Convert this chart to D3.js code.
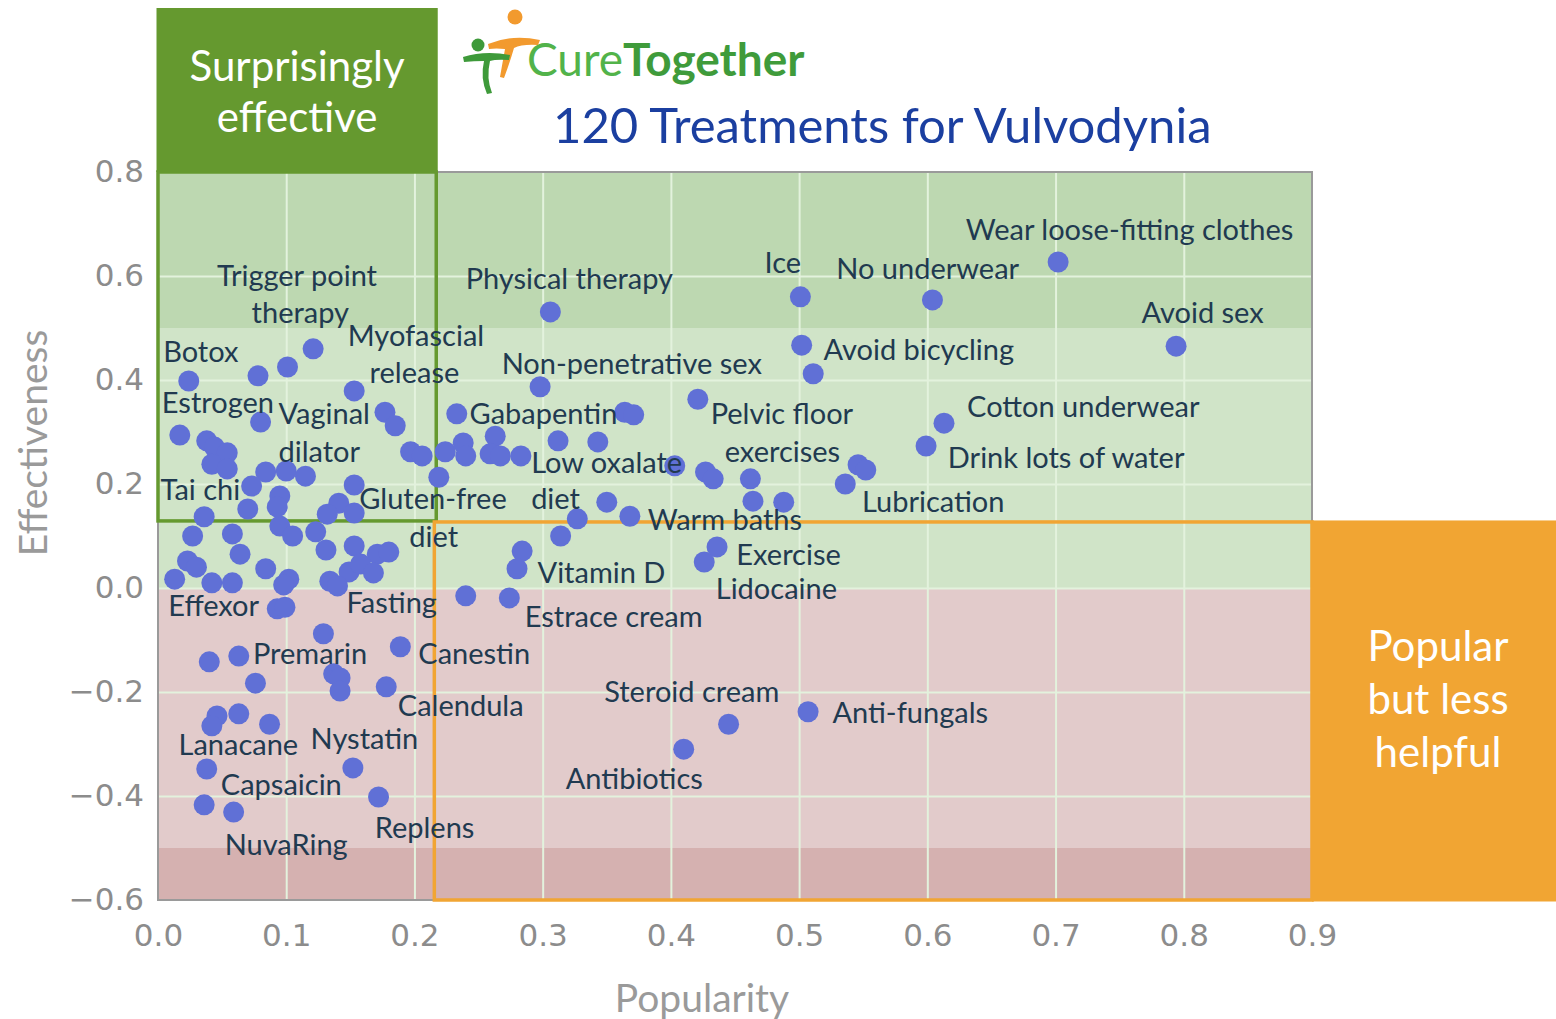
<!DOCTYPE html>
<html>
<head>
<meta charset="utf-8">
<script src="https://cdnjs.cloudflare.com/ajax/libs/d3/7.8.5/d3.min.js"></script>
<style>
  body { margin: 0; background: #fff; }
  svg { display: block; }
  text { font-family: Lato, 'Open Sans', sans-serif; }
  .tick text { font-family: 'DejaVu Sans', sans-serif; }
</style>
</head>
<body>
<div id="chart"></div>
<script>
var popularity = [
  0.702, 0.794, 0.604, 0.501, 0.502, 0.511, 0.306, 0.121, 0.024, 0.078,
  0.101, 0.153, 0.298, 0.421, 0.613, 0.599, 0.536, 0.546, 0.552, 0.233,
  0.364, 0.371, 0.080, 0.177, 0.185, 0.017, 0.038, 0.044, 0.054, 0.042,
  0.054, 0.197, 0.206, 0.224, 0.238, 0.240, 0.263, 0.259, 0.267, 0.283,
  0.312, 0.343, 0.084, 0.100, 0.115, 0.073, 0.153, 0.219, 0.403, 0.427,
  0.433, 0.462, 0.464, 0.488, 0.350, 0.327, 0.314, 0.368, 0.095, 0.093,
  0.141, 0.132, 0.153, 0.070, 0.036, 0.027, 0.058, 0.095, 0.105, 0.123,
  0.064, 0.131, 0.153, 0.171, 0.180, 0.023, 0.030, 0.084, 0.149, 0.158,
  0.168, 0.013, 0.042, 0.058, 0.102, 0.098, 0.134, 0.140, 0.284, 0.280,
  0.436, 0.426, 0.240, 0.274, 0.093, 0.099, 0.129, 0.189, 0.040, 0.063,
  0.076, 0.137, 0.142, 0.142, 0.178, 0.046, 0.042, 0.063, 0.087, 0.038,
  0.152, 0.172, 0.036, 0.059, 0.445, 0.507, 0.410
]

var effectiveness = [
  0.627, 0.465, 0.554, 0.560, 0.467, 0.412, 0.531, 0.460, 0.398, 0.408,
  0.425, 0.379, 0.387, 0.363, 0.317, 0.273, 0.200, 0.237, 0.227, 0.335,
  0.338, 0.333, 0.319, 0.338, 0.312, 0.294, 0.283, 0.271, 0.260, 0.238,
  0.229, 0.262, 0.254, 0.262, 0.279, 0.254, 0.292, 0.258, 0.254, 0.254,
  0.283, 0.281, 0.223, 0.225, 0.215, 0.196, 0.198, 0.213, 0.235, 0.223,
  0.210, 0.210, 0.167, 0.165, 0.165, 0.133, 0.100, 0.138, 0.177, 0.156,
  0.163, 0.142, 0.144, 0.152, 0.137, 0.100, 0.104, 0.119, 0.100, 0.108,
  0.065, 0.073, 0.081, 0.065, 0.069, 0.052, 0.040, 0.037, 0.031, 0.046,
  0.029, 0.017, 0.010, 0.010, 0.017, 0.006, 0.013, 0.004, 0.071, 0.037,
  0.079, 0.050, -0.015, -0.019, -0.040, -0.037, -0.088, -0.113, -0.142, -0.131,
  -0.183, -0.165, -0.173, -0.198, -0.190, -0.246, -0.265, -0.242, -0.262, -0.348,
  -0.346, -0.402, -0.417, -0.431, -0.262, -0.238, -0.310
]

var labelText = [
  'Wear loose-fitting clothes', 'Ice', 'No underwear', 'Avoid sex', 'Physical therapy',
  'Trigger point', 'therapy', 'Myofascial', 'release', 'Botox',
  'Non-penetrative sex', 'Avoid bicycling', 'Estrogen', 'Vaginal', 'dilator',
  'Gabapentin', 'Pelvic floor', 'exercises', 'Cotton underwear', 'Drink lots of water',
  'Low oxalate', 'diet', 'Tai chi', 'Gluten-free', 'diet',
  'Lubrication', 'Warm baths', 'Exercise', 'Vitamin D', 'Lidocaine',
  'Effexor', 'Fasting', 'Estrace cream', 'Premarin', 'Canestin',
  'Steroid cream', 'Calendula', 'Anti-fungals', 'Lanacane', 'Nystatin',
  'Capsaicin', 'Antibiotics', 'NuvaRing', 'Replens'
]
var labelX = [
  0.630, 0.473, 0.529, 0.767, 0.240,
  0.046, 0.073, 0.148, 0.165, 0.004,
  0.268, 0.519, 0.003, 0.094, 0.094,
  0.243, 0.431, 0.442, 0.631, 0.616,
  0.291, 0.291, 0.002, 0.157, 0.196,
  0.549, 0.382, 0.451, 0.296, 0.435,
  0.008, 0.147, 0.286, 0.074, 0.203,
  0.348, 0.187, 0.526, 0.016, 0.119,
  0.049, 0.318, 0.052, 0.169
]
var labelY = [
  0.688, 0.625, 0.613, 0.529, 0.594,
  0.600, 0.529, 0.485, 0.413, 0.454,
  0.431, 0.458, 0.356, 0.335, 0.262,
  0.335, 0.335, 0.262, 0.348, 0.250,
  0.240, 0.171, 0.188, 0.171, 0.098,
  0.165, 0.131, 0.063, 0.029, -0.002,
  -0.035, -0.029, -0.056, -0.127, -0.127,
  -0.200, -0.227, -0.240, -0.302, -0.290,
  -0.379, -0.367, -0.494, -0.462
]

var xTicks = [0, 0.1, 0.2, 0.3, 0.4, 0.5, 0.6, 0.7, 0.8, 0.9]
var yTicks = [-0.6, -0.4, -0.2, 0, 0.2, 0.4, 0.6, 0.8]

var bandFrom = [0.5, 0, -0.5, -0.6]
var bandTo = [0.8, 0.5, 0, -0.5]
var bandColor = ['#bdd8b1', '#d0e4c8', '#e2cbcb', '#d5b1b0']

var width = 1556, height = 1019
var svg = d3.select('#chart').append('svg').attr('width', width).attr('height', height)

var x = d3.scaleLinear().domain([0, 0.9]).range([158, 1312])
var y = d3.scaleLinear().domain([-0.6, 0.8]).range([900, 172])

// background bands
svg.selectAll('rect.band').data(bandFrom).enter().append('rect')
  .attr('class', 'band')
  .attr('x', x(0)).attr('width', x(0.9) - x(0))
  .attr('y', function(d, i){ return y(bandTo[i]) })
  .attr('height', function(d, i){ return y(d) - y(bandTo[i]) })
  .attr('fill', function(d, i){ return bandColor[i] })

// grid
svg.append('g')
  .attr('transform', 'translate(0,' + y(-0.6) + ')')
  .call(d3.axisBottom(x).tickValues(xTicks.slice(1, -1)).tickSize(-(y(-0.6) - y(0.8))).tickFormat(''))
  .call(function(g){ g.select('.domain').remove() })
  .selectAll('line').attr('stroke', '#e3f2dd').attr('stroke-width', 2)

svg.append('g')
  .attr('transform', 'translate(' + x(0) + ',0)')
  .call(d3.axisLeft(y).tickValues(yTicks.slice(1, -1)).tickSize(-(x(0.9) - x(0))).tickFormat(''))
  .call(function(g){ g.select('.domain').remove() })
  .selectAll('line').attr('stroke', '#e3f2dd').attr('stroke-width', 2)

// frame
svg.append('rect')
  .attr('x', x(0)).attr('y', y(0.8))
  .attr('width', x(0.9) - x(0)).attr('height', y(-0.6) - y(0.8))
  .attr('fill', 'none').attr('stroke', '#9a9a9a').attr('stroke-width', 2)

// axes
var xAxis = svg.append('g')
  .attr('transform', 'translate(0,' + y(-0.6) + ')')
  .call(d3.axisBottom(x).tickValues(xTicks).tickSize(0).tickPadding(24).tickFormat(d3.format('.1f')))
xAxis.select('.domain').remove()
xAxis.selectAll('text').attr('font-size', 31).attr('fill', '#8c8c8c')

var yAxis = svg.append('g')
  .attr('transform', 'translate(' + x(0) + ',0)')
  .call(d3.axisLeft(y).tickValues(yTicks).tickSize(0).tickPadding(14).tickFormat(d3.format('.1f')))
yAxis.select('.domain').remove()
yAxis.selectAll('text').attr('font-size', 31).attr('fill', '#8c8c8c')

svg.append('text')
  .attr('x', 702).attr('y', 998).attr('dy', '0.35em')
  .attr('text-anchor', 'middle').attr('font-size', 39).attr('fill', '#9a9a9a')
  .text('Popularity')

svg.append('text')
  .attr('transform', 'translate(33,443) rotate(-90)').attr('dy', '0.35em')
  .attr('text-anchor', 'middle').attr('font-size', 39).attr('fill', '#9a9a9a')
  .text('Effectiveness')

// quadrant boxes
var green = '#65992f', orange = '#f1a533'
svg.append('rect')
  .attr('x', x(0)).attr('y', y(0.8))
  .attr('width', x(0.217) - x(0)).attr('height', y(0.129) - y(0.8))
  .attr('fill', 'none').attr('stroke', green).attr('stroke-width', 3.5)
svg.append('rect')
  .attr('x', x(0) - 1.5).attr('y', 8)
  .attr('width', x(0.217) - x(0) + 3).attr('height', y(0.8) - 8)
  .attr('fill', green)

svg.append('rect')
  .attr('x', x(0.2155)).attr('y', y(0.127))
  .attr('width', x(0.9) - x(0.2155)).attr('height', y(-0.6) - y(0.127))
  .attr('fill', 'none').attr('stroke', orange).attr('stroke-width', 3.5)
svg.append('rect')
  .attr('x', x(0.9)).attr('y', y(0.127) - 1.5)
  .attr('width', width - x(0.9)).attr('height', y(-0.6) - y(0.127) + 3)
  .attr('fill', orange)

svg.append('text')
  .attr('x', (x(0) + x(0.217)) / 2).attr('y', 66).attr('dy', '0.35em')
  .attr('text-anchor', 'middle').attr('font-size', 42).attr('fill', '#fff')
  .text('Surprisingly')
svg.append('text')
  .attr('x', (x(0) + x(0.217)) / 2).attr('y', 117).attr('dy', '0.35em')
  .attr('text-anchor', 'middle').attr('font-size', 42).attr('fill', '#fff')
  .text('effective')

;['Popular', 'but less', 'helpful'].forEach(function(t, i){
  svg.append('text')
    .attr('x', 1438).attr('y', 646 + i * 53).attr('dy', '0.35em')
    .attr('text-anchor', 'middle').attr('font-size', 42).attr('fill', '#fff')
    .text(t)
})

// dots
svg.append('g').selectAll('circle').data(popularity).enter().append('circle')
  .attr('cx', function(d){ return x(d) })
  .attr('cy', function(d, i){ return y(effectiveness[i]) })
  .attr('r', 10.5)
  .attr('fill', '#6070d6')

// labels
svg.append('g').selectAll('text').data(labelText).enter().append('text')
  .attr('x', function(d, i){ return x(labelX[i]) })
  .attr('y', function(d, i){ return y(labelY[i]) })
  .attr('dy', '0.35em')
  .attr('font-size', 29).attr('fill', '#213a50')
  .text(function(d){ return d })

// logo
var logo = svg.append('g')
logo.append('circle').attr('cx', 515).attr('cy', 17).attr('r', 7.5).attr('fill', '#f29a2e')
logo.append('path')
  .attr('d', 'M488,44 Q512,34 540,40 L538,45 Q522,44 514,48 Q510,62 504,78 L500,77 Q503,60 505,49 Q496,48 489,49 Z')
  .attr('fill', '#f29a2e')
logo.append('circle').attr('cx', 478).attr('cy', 45).attr('r', 6.5).attr('fill', '#3e9a3a')
logo.append('path')
  .attr('d', 'M463,57 Q485,50 510,55 L509,60 Q496,59 490,61 Q486,78 492,93 L487,94 Q480,78 484,61 Q474,61 464,62 Z')
  .attr('fill', '#3e9a3a')

svg.append('text')
  .attr('x', 527).attr('y', 60).attr('dy', '0.35em').attr('font-size', 46)
  .call(function(t){
    t.append('tspan').attr('fill', '#52b34a').text('Cure')
    t.append('tspan').attr('fill', '#3f9b3b').attr('font-weight', 'bold').text('Together')
  })

svg.append('text')
  .attr('x', 553).attr('y', 126).attr('dy', '0.35em')
  .attr('font-size', 49).attr('fill', '#1b3fa0')
  .text('120 Treatments for Vulvodynia')
</script>
</body>
</html>
